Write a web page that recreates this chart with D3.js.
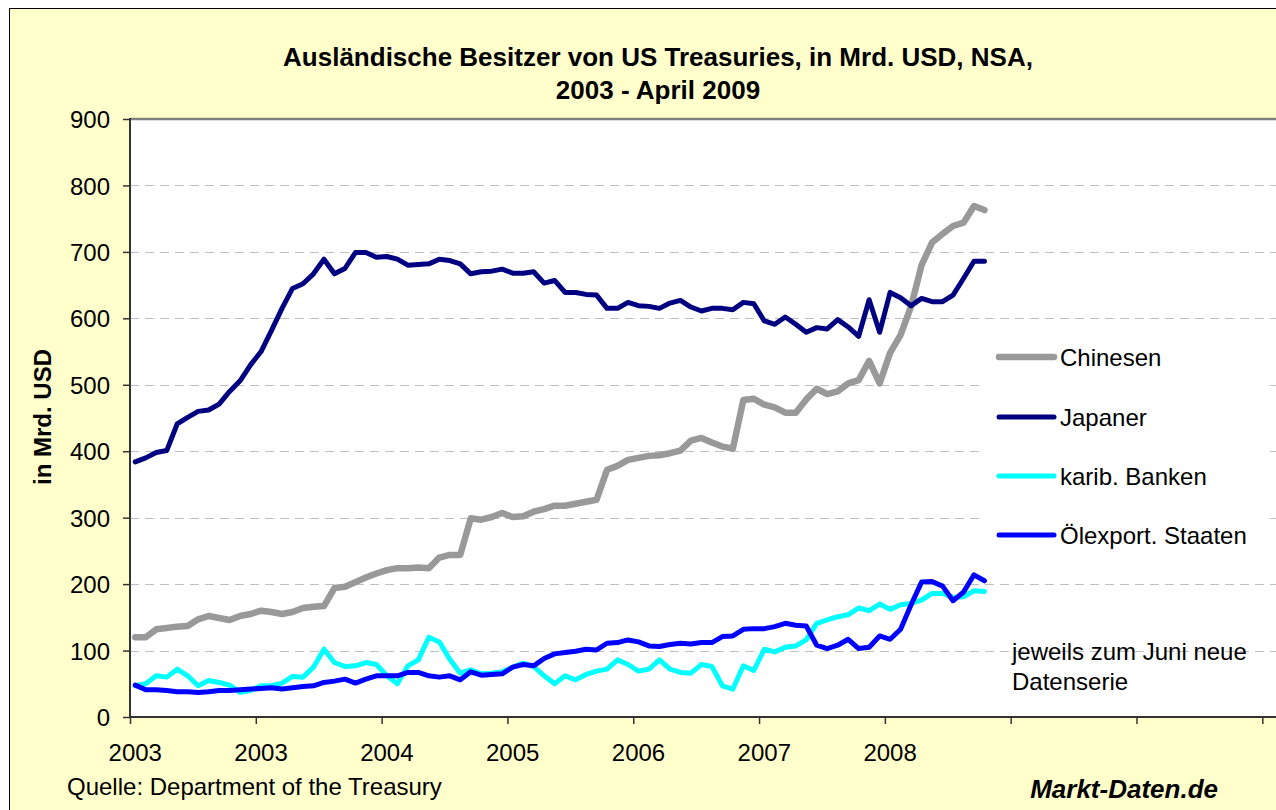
<!DOCTYPE html>
<html>
<head>
<meta charset="utf-8">
<script src="https://cdn.jsdelivr.net/npm/d3@7/dist/d3.min.js"></script>
<style>
  body { margin: 0; background: #fff; }
  svg text { font-family: "Liberation Sans", Arial, sans-serif; fill: #000; }
</style>
</head>
<body>
<div id="chart"></div>
<script>
// monthly values, Mrd. USD
var chinesen = [120,120,132,134,136,137,147,152,149,146,152,155,160,158,155,158,164,166,167,194,
  196,203,210,216,221,224,224,225,224,240,244,244,299,297,301,307,301,302,309,313,
  318,318,321,324,327,372,378,387,390,393,394,397,401,416,420,413,407,404,477,479,
  470,466,458,458,478,494,486,490,502,507,536,502,548,575,618,680,714,727,739,744,769,763];
var japaner = [384,390,398,401,441,451,460,462,471,490,506,530,550,582,615,645,652,667,689,667,
  675,699,699,692,693,689,680,681,682,689,687,682,667,670,671,674,668,668,670,653,
  657,639,639,636,635,615,615,624,619,618,615,623,627,617,611,615,615,613,624,622,
  596,591,602,591,579,586,584,598,587,573,628,579,639,631,619,630,625,625,635,660,686,686];
var karibBanken = [47,50,62,60,72,62,47,55,52,48,37,40,47,47,51,61,60,75,102,82,
  76,77,82,79,62,50,77,86,120,113,87,66,71,65,66,68,75,81,76,62,
  50,62,56,64,69,72,86,79,69,72,86,72,67,66,79,76,47,42,77,70,
  102,98,105,107,116,141,146,151,154,164,160,170,162,169,171,176,186,186,180,181,190,189];
var oelexport = [48,41,41,40,38,38,37,38,40,40,41,42,43,44,42,44,46,47,52,54,
  57,51,57,62,62,62,67,67,62,60,62,56,68,63,64,65,75,79,77,88,
  95,97,99,102,101,111,112,116,113,107,106,109,111,110,112,112,121,122,132,133,
  133,136,141,138,137,108,103,108,117,103,105,122,117,132,169,203,204,197,175,188,214,205];

var seriesNames = ["Chinesen", "Japaner", "karib. Banken", "Ölexport. Staaten"];
var seriesColors = ["#999999", "#000080", "#00FFFF", "#0000FF"];
var seriesWidths = [6.5, 5, 5, 5];
var yTicks = [0,100,200,300,400,500,600,700,800,900];
var xTickLabels = ["2003","2003","2004","2005","2006","2007","2008","","",""];
var monthsPerTick = 12;

var W = 1276, H = 810;
var pLeft = 130, pTop = 119, pBottom = 717, pRight = 1290;

var svg = d3.select("#chart").append("svg")
  .attr("width", W).attr("height", H);

// chart background + frame
svg.append("rect").attr("x", 0).attr("y", 0).attr("width", W).attr("height", H).attr("fill", "#fff");
svg.append("rect").attr("x", 9.5).attr("y", 8.5).attr("width", W + 20).attr("height", H + 20)
  .attr("fill", "#FFFFCC").attr("stroke", "#000").attr("stroke-width", 1);

var x = d3.scaleLinear().domain([0, 108]).range([pLeft, 1262.3]);
var y = d3.scaleLinear().domain([0, 900]).range([pBottom, pTop]);

// plot area
svg.append("rect").attr("x", pLeft).attr("y", pTop).attr("width", pRight - pLeft).attr("height", pBottom - pTop)
  .attr("fill", "#fff");

// grid
svg.append("g").selectAll("line")
  .data(yTicks.filter(function(d){ return d > 0 && d < 900; }))
  .enter().append("line")
  .attr("x1", pLeft).attr("x2", pRight)
  .attr("y1", function(d){ return Math.round(y(d)) + 0.5; })
  .attr("y2", function(d){ return Math.round(y(d)) + 0.5; })
  .attr("stroke", "#c0c0c0").attr("stroke-width", 1).attr("stroke-dasharray", "9,6");

svg.append("line").attr("x1", pLeft).attr("x2", pRight).attr("y1", pTop).attr("y2", pTop)
  .attr("stroke", "#808080").attr("stroke-width", 2.5);

// legend box (white, hides grid)
var legend = svg.append("g");
legend.append("rect").attr("x", 985).attr("y", 326).attr("width", 281).attr("height", 240).attr("fill", "#fff");

// series
var line = d3.line()
  .x(function(d, i){ return x(i + 0.5); })
  .y(function(d){ return y(d); });

var allSeries = [chinesen, japaner, karibBanken, oelexport];
svg.append("g").selectAll("path")
  .data(allSeries)
  .enter().append("path")
  .attr("d", line)
  .attr("fill", "none")
  .attr("stroke", function(d, i){ return seriesColors[i]; })
  .attr("stroke-width", function(d, i){ return seriesWidths[i]; })
  .attr("stroke-linejoin", "round")
  .attr("stroke-linecap", "round");

// axes
var yAxis = d3.axisLeft(y).tickValues(yTicks).tickSize(7).tickPadding(13);
var gy = svg.append("g").attr("transform", "translate(" + pLeft + ",0)").call(yAxis);
gy.select(".domain").remove();
gy.selectAll(".tick line").attr("stroke", "#333").attr("stroke-width", 1.5);
gy.selectAll("text").attr("font-size", "24px").attr("font-family", "Liberation Sans, Arial, sans-serif")
  .attr("dy", "0.36em");

var xTickVals = d3.range(0, 109, monthsPerTick);
var xAxis = d3.axisBottom(x).tickValues(xTickVals).tickSize(7).tickFormat("");
var gx = svg.append("g").attr("transform", "translate(0," + pBottom + ")").call(xAxis);
gx.select(".domain").remove();
gx.selectAll(".tick line").attr("stroke", "#333").attr("stroke-width", 1.5);

svg.append("g").selectAll("text")
  .data(xTickLabels)
  .enter().append("text")
  .attr("x", function(d, i){ return x(i * monthsPerTick + 0.5); })
  .attr("y", 761)
  .attr("text-anchor", "middle")
  .attr("font-size", "24px")
  .text(function(d){ return d; });

svg.append("line").attr("x1", pLeft).attr("x2", pLeft).attr("y1", pTop - 1).attr("y2", pBottom + 1)
  .attr("stroke", "#333").attr("stroke-width", 2);
svg.append("line").attr("x1", pLeft).attr("x2", pRight).attr("y1", pBottom).attr("y2", pBottom)
  .attr("stroke", "#333").attr("stroke-width", 2);

// legend entries
var legendY = [357, 417, 476, 535];
seriesNames.forEach(function(name, i){
  legend.append("line")
    .attr("x1", 999).attr("x2", 1054)
    .attr("y1", legendY[i]).attr("y2", legendY[i])
    .attr("stroke", seriesColors[i]).attr("stroke-width", seriesWidths[i])
    .attr("stroke-linecap", "round");
  legend.append("text")
    .attr("x", 1060).attr("y", legendY[i] + 9)
    .attr("font-size", "24px")
    .text(name);
});

// titles and notes
svg.append("text").attr("x", 658).attr("y", 66).attr("text-anchor", "middle")
  .attr("font-size", "26px").attr("font-weight", "bold")
  .text("Ausländische Besitzer von US Treasuries, in Mrd. USD, NSA,");
svg.append("text").attr("x", 658).attr("y", 99).attr("text-anchor", "middle")
  .attr("font-size", "26px").attr("font-weight", "bold")
  .text("2003 - April 2009");

svg.append("text")
  .attr("transform", "translate(51,417) rotate(-90)")
  .attr("text-anchor", "middle")
  .attr("font-size", "24px").attr("font-weight", "bold")
  .text("in Mrd. USD");

svg.append("text").attr("x", 1012).attr("y", 660).attr("font-size", "24px").text("jeweils zum Juni neue");
svg.append("text").attr("x", 1012).attr("y", 690).attr("font-size", "24px").text("Datenserie");

svg.append("text").attr("x", 67).attr("y", 795).attr("font-size", "24px")
  .text("Quelle: Department of the Treasury");
svg.append("text").attr("x", 1218).attr("y", 798).attr("text-anchor", "end")
  .attr("font-size", "26px").attr("font-weight", "bold").attr("font-style", "italic")
  .text("Markt-Daten.de");
</script>
</body>
</html>
